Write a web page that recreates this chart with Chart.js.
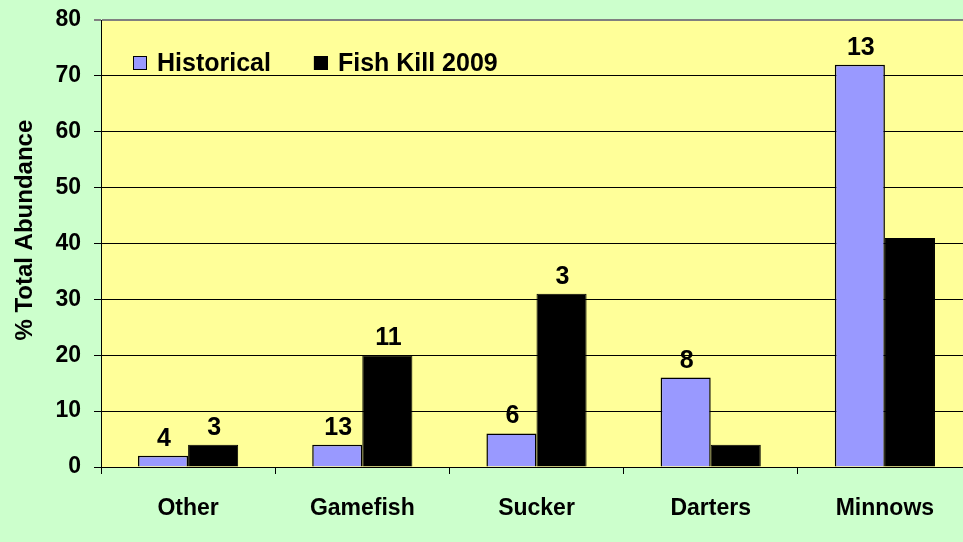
<!DOCTYPE html>
<html>
<head>
<meta charset="utf-8">
<script src="https://cdn.jsdelivr.net/npm/chart.js@4"></script>
<style>
  html, body { margin: 0; padding: 0; background: #ccffcc; overflow: hidden; }
  canvas { display: block; }
</style>
</head>
<body>
<canvas id="chart" width="990" height="542"></canvas>
<script>
// fish abundance by group, % of total
const categories = ["Other", "Gamefish", "Sucker", "Darters", "Minnows"];
const historical = [2, 4, 6, 16, 72];
const fishKill = [4, 20, 31, 4, 41];
// species counts printed above the bars (null = no label)
const historicalLabels = [4, 13, 6, 8, 13];
const fishKillLabels = [3, 11, 3, null, null];
const yTicks = { min: 0, max: 80, step: 10 };

const FONT = "'Liberation Sans', Arial, sans-serif";

// yellow plot area
const plotBg = {
    id: "plotBg",
    beforeDraw(chart) {
        const { ctx, chartArea: a } = chart;
        ctx.save();
        ctx.fillStyle = "#ffff99";
        ctx.fillRect(a.left, a.top, a.right - a.left, a.bottom - a.top);
        ctx.restore();
    },
};

// counts above bars
const barLabels = {
    id: "barLabels",
    afterDatasetsDraw(chart) {
        const ctx = chart.ctx;
        ctx.save();
        ctx.font = "bold 25px " + FONT;
        ctx.fillStyle = "#000";
        ctx.textAlign = "center";
        ctx.textBaseline = "alphabetic";
        chart.data.datasets.forEach((ds, i) => {
            const meta = chart.getDatasetMeta(i);
            meta.data.forEach((bar, j) => {
                const txt = ds.counts[j];
                if (txt == null) return;
                ctx.fillText(String(txt), bar.x + 1, bar.y - 10);
            });
        });
        ctx.restore();
    },
};

// legend drawn inside the plot, top-left
const innerLegend = {
    id: "innerLegend",
    afterDraw(chart) {
        const { ctx, chartArea: a } = chart;
        ctx.save();
        ctx.font = "bold 25px " + FONT;
        ctx.textBaseline = "middle";
        ctx.textAlign = "left";
        let x = a.left + 32;
        const y = a.top + 43;
        chart.data.datasets.forEach(ds => {
            ctx.fillStyle = ds.backgroundColor;
            ctx.fillRect(x, y - 7, 14, 14);
            ctx.strokeStyle = "#000";
            ctx.lineWidth = 1;
            ctx.strokeRect(x + 0.5, y - 6.5, 13, 13);
            ctx.fillStyle = "#000";
            ctx.fillText(ds.label, x + 24, y + 1);
            x += 24 + ctx.measureText(ds.label).width + 43;
        });
        ctx.restore();
    },
};

new Chart(document.getElementById("chart").getContext("2d"), {
    type: "bar",
    data: {
        labels: categories,
        datasets: [
            {
                label: "Historical",
                data: historical,
                counts: historicalLabels,
                backgroundColor: "#9999ff",
                borderColor: "#000",
                borderWidth: 1.5,
                barPercentage: 1,
                categoryPercentage: 0.575,
            },
            {
                label: "Fish Kill 2009",
                data: fishKill,
                counts: fishKillLabels,
                backgroundColor: "#000000",
                borderColor: "#000",
                borderWidth: 1,
                barPercentage: 1,
                categoryPercentage: 0.575,
            },
        ],
    },
    options: {
        responsive: false,
        devicePixelRatio: 1,
        animation: false,
        layout: { padding: { top: 20, right: 18, left: 0, bottom: 0 } },
        plugins: {
            legend: { display: false },
            tooltip: { enabled: false },
        },
        scales: {
            x: {
                afterFit: s => { s.height = 75; s.paddingLeft = 0; s.paddingRight = 0; },
                grid: { drawOnChartArea: false, drawTicks: true, tickLength: 7, color: "#000", offset: true },
                border: { color: "#000", width: 1 },
                ticks: { color: "#000", font: { family: FONT, size: 23, weight: "bold" }, padding: 21 },
            },
            y: {
                min: yTicks.min,
                max: yTicks.max,
                afterFit: s => { s.width = 101; s.paddingTop = 0; s.paddingBottom = 0; },
                ticks: { stepSize: yTicks.step, color: "#000", font: { family: FONT, size: 23, weight: "bold" }, padding: 13 },
                grid: {
                    tickLength: 7,
                    color: c => (c.tick && c.tick.value === yTicks.max ? "#808080" : "#000"),
                    lineWidth: c => (c.tick && c.tick.value === yTicks.max ? 2 : 1),
                },
                border: { color: "#000", width: 1 },
                title: {
                    display: true,
                    text: "    % Total Abundance",
                    color: "#000",
                    font: { family: FONT, size: 24, weight: "bold" },
                    padding: { top: 11, bottom: 0 },
                },
            },
        },
    },
    plugins: [plotBg, barLabels, innerLegend],
});
</script>
</body>
</html>
